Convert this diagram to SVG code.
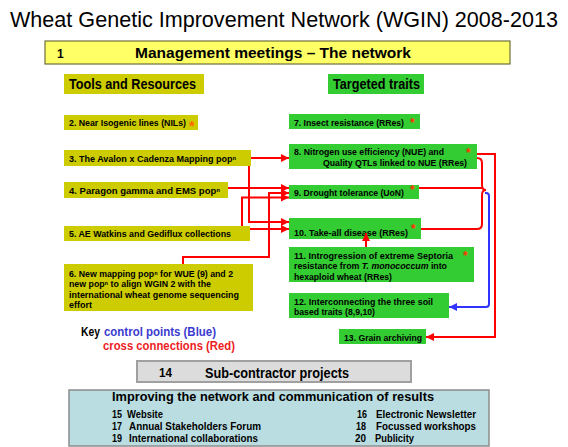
<svg xmlns="http://www.w3.org/2000/svg" width="568" height="447" viewBox="0 0 568 447">
<defs>
<style>
text{font-family:"Liberation Sans",Arial,sans-serif;font-weight:bold;fill:#000}
.it{font-size:9.5px}
.tool{fill:#cccc00}
.trait{fill:#33cc33}
.red{stroke:#ff0000;stroke-width:2;fill:none}
.blue{stroke:#3333ff;stroke-width:2;fill:none}
.star{fill:#ff3300;font-size:12px}
.bot{font-size:11px}
</style>
<marker id="ar" markerUnits="userSpaceOnUse" markerWidth="8" markerHeight="8" refX="8" refY="4" orient="auto"><path d="M0,0 L8,4 L0,8 z" fill="#ff0000"/></marker>
<marker id="ab" markerUnits="userSpaceOnUse" markerWidth="8" markerHeight="8" refX="8" refY="4" orient="auto"><path d="M0,0 L8,4 L0,8 z" fill="#3333ff"/></marker>
</defs>
<rect width="568" height="447" fill="#fff"/>
<text x="10" y="27" style="font-weight:normal;font-size:22px" textLength="548" lengthAdjust="spacingAndGlyphs">Wheat Genetic Improvement Network (WGIN) 2008-2013</text>

<g id="n1">
<rect x="45" y="41" width="465" height="23" fill="#ffff66" stroke="#6e6e3c" stroke-width="1.2"/>
<text x="57" y="58" style="font-size:12px">1</text>
<text x="135" y="58" style="font-size:14.5px" textLength="276" lengthAdjust="spacingAndGlyphs">Management meetings – The network</text>
</g>
<g id="tools">
<rect class="tool" x="64" y="74" width="140" height="20"/>
<text x="69" y="89" style="font-size:15px" textLength="127" lengthAdjust="spacingAndGlyphs">Tools and Resources</text>
</g>
<g id="traits">
<rect class="trait" x="328" y="74" width="96" height="20"/>
<text x="333" y="89" style="font-size:15px" textLength="87" lengthAdjust="spacingAndGlyphs">Targeted traits</text>
</g>

<g id="n2">
<rect class="tool" x="64" y="115" width="134" height="15"/>
<text class="it" x="69" y="126" textLength="117" lengthAdjust="spacingAndGlyphs">2. Near Isogenic lines (NILs)</text>
<text x="189" y="131" style="fill:#ff6600;font-size:14px">*</text>
</g>
<g id="n3">
<rect class="tool" x="64" y="150" width="187" height="16"/>
<text class="it" x="69" y="161.5" textLength="167" lengthAdjust="spacingAndGlyphs">3. The Avalon x Cadenza Mapping popⁿ</text>
</g>
<g id="n4">
<rect class="tool" x="64" y="182" width="164" height="16"/>
<text class="it" x="69" y="193.5" textLength="151" lengthAdjust="spacingAndGlyphs">4.  Paragon gamma and EMS popⁿ</text>
</g>
<g id="n5">
<rect class="tool" x="64" y="226" width="186" height="15"/>
<text class="it" x="69" y="236.5" textLength="162" lengthAdjust="spacingAndGlyphs">5. AE Watkins and Gediflux collections</text>
</g>
<g id="n6">
<rect class="tool" x="64" y="264" width="189" height="47"/>
<text class="it" x="69" y="276.5" textLength="164" lengthAdjust="spacingAndGlyphs">6. New mapping popⁿ for WUE (9) and 2</text>
<text class="it" x="69" y="287" textLength="142" lengthAdjust="spacingAndGlyphs">new popⁿ to align WGIN 2 with the</text>
<text class="it" x="69" y="297.5" textLength="170" lengthAdjust="spacingAndGlyphs">international  wheat genome sequencing</text>
<text class="it" x="69" y="307.5" textLength="23" lengthAdjust="spacingAndGlyphs">effort</text>
</g>

<g id="n7">
<rect class="trait" x="289" y="114" width="131" height="15"/>
<text class="it" x="294" y="125.5" textLength="110" lengthAdjust="spacingAndGlyphs">7. Insect resistance (RRes)</text>
<text class="star" x="410" y="127">*</text>
</g>
<g id="n8">
<rect class="trait" x="289" y="144" width="188" height="25"/>
<text class="it" x="294" y="154.5" textLength="150" lengthAdjust="spacingAndGlyphs">8. Nitrogen use efficiency (NUE) and</text>
<text class="it" x="323" y="165.5" textLength="144" lengthAdjust="spacingAndGlyphs">Quality QTLs linked to NUE (RRes)</text>
<text class="star" x="466" y="157">*</text>
</g>
<g id="n9">
<rect class="trait" x="289" y="185" width="130" height="14"/>
<text class="it" x="294" y="196" textLength="110" lengthAdjust="spacingAndGlyphs">9. Drought tolerance (UoN)</text>
<text class="star" x="410" y="194">*</text>
</g>
<g id="n10">
<rect class="trait" x="289" y="218" width="132" height="21"/>
<text class="it" x="294" y="235.5" textLength="114" lengthAdjust="spacingAndGlyphs">10.  Take-all disease (RRes)</text>
<text class="star" x="411" y="233">*</text>
</g>
<g id="n11">
<rect class="trait" x="289" y="247" width="185" height="35"/>
<text class="it" x="294" y="258.5" textLength="159" lengthAdjust="spacingAndGlyphs">11.  Introgression of  extreme Septoria</text>
<text class="it" x="294" y="269" textLength="153" lengthAdjust="spacingAndGlyphs">resistance from <tspan font-style="italic">T. monococcum</tspan> into</text>
<text class="it" x="294" y="279.5" textLength="98" lengthAdjust="spacingAndGlyphs">hexaploid wheat (RRes)</text>
<text class="star" x="463" y="260">*</text>
</g>
<g id="n12">
<rect class="trait" x="289" y="293" width="160" height="25"/>
<text class="it" x="294" y="304.5" textLength="139" lengthAdjust="spacingAndGlyphs">12.  Interconnecting the three soil</text>
<text class="it" x="294" y="315" textLength="81" lengthAdjust="spacingAndGlyphs">based traits (8,9,10)</text>
</g>
<g id="n13">
<rect class="trait" x="339" y="329" width="87" height="15"/>
<text class="it" x="344" y="340.5" textLength="78" lengthAdjust="spacingAndGlyphs">13. Grain archiving</text>
</g>

<g id="connectors">
<path class="red" d="M251,158 H289" marker-end="url(#ar)"/>
<path class="red" d="M249,166 V222 H289" marker-end="url(#ar)"/>
<path class="red" d="M228,188 H289" marker-end="url(#ar)"/>
<path class="red" d="M242,226 V197.5 H289" marker-end="url(#ar)"/>
<path class="red" d="M183,264 V257 H269 V193 H289" marker-end="url(#ar)"/>
<path class="red" d="M250,229 H289" marker-end="url(#ar)"/>
<path class="red" d="M366,247 V233" marker-end="url(#ar)"/>
<path class="red" d="M477,158 Q482,158 482,163 V185 Q482,190 486,190"/>
<path class="red" d="M486,190 Q482,190 482,195 V224 Q482,229 477,229 H421"/>
<path class="red" d="M419,188 H482"/>
<path class="red" d="M477,154 H495 V337 H426" marker-end="url(#ar)"/>
<path class="blue" d="M485,193 H486 Q489,193 489,196 V304 Q489,307 486,307 H449" marker-end="url(#ab)"/>
</g>

<g id="key">
<text x="81" y="335.5" style="font-size:12.5px" textLength="19" lengthAdjust="spacingAndGlyphs">Key</text>
<text x="104" y="335.5" style="font-size:12.5px;fill:#3a3ad0" textLength="112" lengthAdjust="spacingAndGlyphs">control points (Blue)</text>
<text x="103" y="349.5" style="font-size:12.5px;fill:#ee1c24" textLength="132" lengthAdjust="spacingAndGlyphs">cross connections (Red)</text>
</g>

<g id="n14">
<rect x="137" y="361" width="274" height="21" fill="#dcdcdc" stroke="#a0a0a0" stroke-width="2"/>
<text x="159" y="377" style="font-size:12px" textLength="13" lengthAdjust="spacingAndGlyphs">14</text>
<text x="205" y="378" style="font-size:15.5px" textLength="144" lengthAdjust="spacingAndGlyphs">Sub-contractor projects</text>
</g>

<g id="improving">
<rect x="69" y="390" width="420" height="56" fill="#b9dde1" stroke="#8c8c8c" stroke-width="1.5"/>
<text x="112" y="401" style="font-size:13.5px" textLength="322" lengthAdjust="spacingAndGlyphs">Improving the network and communication of results</text>
<text class="bot" x="112" y="417.5" textLength="10" lengthAdjust="spacingAndGlyphs">15</text>
<text class="bot" x="127" y="417.5" textLength="36" lengthAdjust="spacingAndGlyphs">Website</text>
<text class="bot" x="112" y="429.5" textLength="10" lengthAdjust="spacingAndGlyphs">17</text>
<text class="bot" x="129" y="429.5" textLength="132" lengthAdjust="spacingAndGlyphs">Annual Stakeholders Forum</text>
<text class="bot" x="112" y="441.5" textLength="10" lengthAdjust="spacingAndGlyphs">19</text>
<text class="bot" x="129" y="441.5" textLength="129" lengthAdjust="spacingAndGlyphs">International collaborations</text>
<text class="bot" x="357" y="417.5" textLength="10" lengthAdjust="spacingAndGlyphs">16</text>
<text class="bot" x="376" y="417.5" textLength="100" lengthAdjust="spacingAndGlyphs">Electronic Newsletter</text>
<text class="bot" x="356" y="429.5" textLength="10" lengthAdjust="spacingAndGlyphs">18</text>
<text class="bot" x="376" y="429.5" textLength="100" lengthAdjust="spacingAndGlyphs">Focussed workshops</text>
<text class="bot" x="355" y="441.5" textLength="11" lengthAdjust="spacingAndGlyphs">20</text>
<text class="bot" x="375" y="441.5" textLength="39" lengthAdjust="spacingAndGlyphs">Publicity</text>
</g>
</svg>
